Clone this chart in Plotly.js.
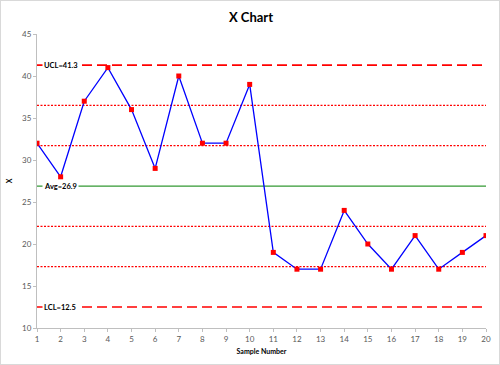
<!DOCTYPE html>
<html><head><meta charset="utf-8">
<script src="https://cdn.plot.ly/plotly-3.0.1.min.js"></script>
<style>html,body{margin:0;padding:0;background:#fff}#c{width:500px;height:365px;box-sizing:border-box;border:1px solid #d9d9d9}</style>
</head><body><div id="c"></div>
<script>
const samples = [1,2,3,4,5,6,7,8,9,10,11,12,13,14,15,16,17,18,19,20];
const values = [32,28,37,41,36,29,40,32,32,39,19,17,17,24,20,17,21,17,19,21];
const ucl = 41.3, avg = 26.9, lcl = 12.5;
const zoneUpper = [36.5, 31.7];
const zoneLower = [22.1, 17.3];
const first = samples[0], last = samples[samples.length-1];

function hline(y, color, dash, width){
  return {x:[first,last], y:[y,y], mode:'lines', line:{color:color, dash:dash, width:width}, hoverinfo:'skip', showlegend:false};
}
const traces = [
  hline(ucl,'#ff0000','10px,5px',1.6),
  hline(lcl,'#ff0000','10px,5px',1.6),
  ...zoneUpper.map(v=>hline(v,'#ff0000','2px,1.5px',1.2)),
  ...zoneLower.map(v=>hline(v,'#ff0000','2px,1.5px',1.2)),
  hline(avg,'#339933','solid',1.3),
  {x:samples, y:values, mode:'lines+markers', line:{color:'#0000ff', width:1.3},
   marker:{symbol:'square', color:'#ff0000', size:5}, showlegend:false}
];
function lab(text, y){
  return {x:first, y:y, xref:'x', yref:'y', text:'<b>'+text+'</b>', showarrow:false,
    xanchor:'left', xshift:5, bgcolor:'#ffffff', borderpad:1,
    font:{family:'Lato, Open Sans, sans-serif', size:7.5, color:'#000'}};
}
const layout = {
  width:500, height:365,
  margin:{l:36, r:15, t:33, b:38},
  paper_bgcolor:'rgba(0,0,0,0)', plot_bgcolor:'#fff',
  title:{text:'<b>X Chart</b>', x:0.5, xanchor:'center', y:0.955, yanchor:'middle',
    font:{family:'Lato, Open Sans, sans-serif', size:13, color:'#000'}},
  font:{family:'Lato, Open Sans, sans-serif', size:8, color:'#595959'},
  xaxis:{range:[first,last], tickmode:'array', tickvals:samples, ticktext:samples.map(String),
    showgrid:false, zeroline:false, showline:true, linecolor:'#bfbfbf', linewidth:1,
    ticks:'outside', ticklen:3, tickcolor:'#bfbfbf',
    title:{text:'<b>Sample Number</b>', standoff:6, font:{size:7, color:'#000'}}},
  yaxis:{range:[10,45], dtick:5, showgrid:false, zeroline:false, showline:true, linecolor:'#bfbfbf', linewidth:1,
    ticks:'outside', ticklen:3, tickcolor:'#bfbfbf',
    title:{text:'<b>X</b>', standoff:8, font:{size:7, color:'#000'}}},
  annotations:[lab('UCL=41.3',ucl), lab('Avg=26.9',avg), lab('LCL=12.5',lcl)]
};
Plotly.newPlot('c', traces, layout, {displayModeBar:false, staticPlot:true});
</script></body></html>
